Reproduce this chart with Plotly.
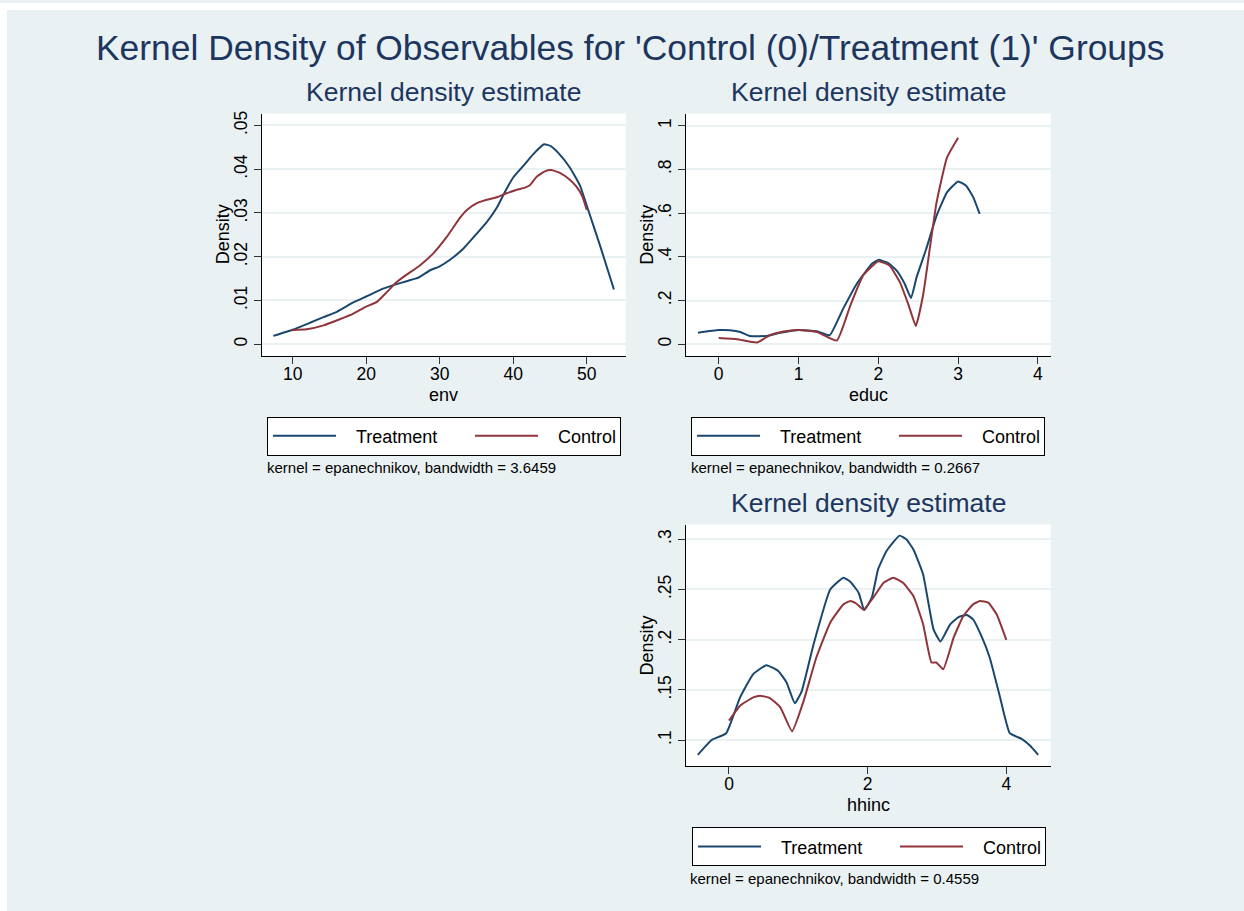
import plotly.graph_objects as go

W, H = 1244, 911

# ---------------- data ----------------
env_t_x = [7.37, 10, 12.36, 14.2, 16, 18.3, 20, 22.3, 23.7, 25.5, 27.1, 28.7, 30, 31.4, 33.2, 35, 36.4,
           37.8, 38.9, 40, 41.4, 42.7, 44.2, 45.1, 46.1, 47.7, 49.1, 50, 51.8, 53.7]
env_t_y = [0.0019, 0.0033, 0.0049, 0.0062, 0.0074, 0.0096, 0.0109, 0.0127, 0.0135, 0.0144, 0.0152, 0.0169,
           0.0178, 0.0193, 0.0218, 0.0252, 0.0279, 0.0313, 0.0349, 0.0381, 0.0408, 0.0434, 0.0457, 0.0453,
           0.0438, 0.0404, 0.0362, 0.0317, 0.0226, 0.0125]
env_c_x = [9.86, 11.9, 14.2, 16.4, 18.25, 20, 21.4, 22.8, 24.15, 25.5, 27.3, 29.1, 30.9, 32.8, 33.7, 35,
           36.4, 37.75, 39.1, 40.5, 41.6, 42.3, 43.2, 44.3, 45.2, 46.4, 47.7, 48.6, 49.4, 50]
env_c_y = [0.0032, 0.0034, 0.0043, 0.0057, 0.0070, 0.0086, 0.0096, 0.0119, 0.0142, 0.0159, 0.0180, 0.0207,
           0.0244, 0.0290, 0.0307, 0.0322, 0.0330, 0.0336, 0.0345, 0.0353, 0.0358, 0.0364, 0.0383, 0.0395,
           0.0398, 0.0391, 0.0376, 0.0360, 0.0338, 0.0307]

educ_t_x = [-0.26, 0, 0.14, 0.27, 0.39, 0.6, 0.77, 1, 1.23, 1.39, 1.56, 1.73, 1.92, 2, 2.12, 2.23, 2.33,
            2.41, 2.48, 2.6, 2.73, 2.86, 3, 3.1, 3.19, 3.27]
educ_t_y = [0.053, 0.065, 0.064, 0.056, 0.038, 0.038, 0.052, 0.065, 0.059, 0.041, 0.163, 0.277, 0.368,
            0.386, 0.372, 0.337, 0.277, 0.211, 0.307, 0.436, 0.588, 0.695, 0.745, 0.725, 0.672, 0.596]
educ_c_x = [0, 0.23, 0.48, 0.64, 0.81, 1, 1.23, 1.48, 1.65, 1.81, 2, 2.14, 2.27, 2.38, 2.47, 2.56, 2.65,
            2.73, 2.86, 3]
educ_c_y = [0.029, 0.023, 0.008, 0.041, 0.058, 0.065, 0.056, 0.017, 0.178, 0.315, 0.380, 0.360, 0.284,
            0.178, 0.084, 0.223, 0.451, 0.649, 0.854, 0.945]

hh_t_x = [-0.45, -0.25, -0.04, 0.16, 0.35, 0.54, 0.71, 0.83, 0.95, 1.05, 1.22, 1.46, 1.65, 1.75, 1.87,
          1.95, 2.06, 2.15, 2.27, 2.46, 2.56, 2.66, 2.8, 2.95, 3.05, 3.19, 3.31, 3.43, 3.52, 3.64, 3.76,
          3.91, 4.05, 4.22, 4.34, 4.46]
hh_t_y = [0.0855, 0.1003, 0.107, 0.1426, 0.1658, 0.1747, 0.169, 0.1575, 0.1367, 0.149, 0.1955, 0.250,
          0.2617, 0.2577, 0.2468, 0.2296, 0.2418, 0.270, 0.2881, 0.3036, 0.2997, 0.2898, 0.265, 0.2104,
          0.1982, 0.2154, 0.2226, 0.2246, 0.2203, 0.2038, 0.1823, 0.1426, 0.107, 0.1013, 0.0947, 0.0855]
hh_c_x = [0, 0.16, 0.35, 0.45, 0.59, 0.74, 0.91, 1.07, 1.26, 1.46, 1.65, 1.75, 1.84, 1.94, 2.08, 2.23,
          2.37, 2.51, 2.66, 2.8, 2.92, 2.99, 3.09, 3.24, 3.38, 3.52, 3.62, 3.74, 3.86, 4.0]
hh_c_y = [0.1195, 0.1344, 0.1426, 0.1443, 0.142, 0.1327, 0.1089, 0.1377, 0.1823, 0.217, 0.2352, 0.2385,
          0.2358, 0.2299, 0.2418, 0.2567, 0.2617, 0.2567, 0.2435, 0.2154, 0.1774, 0.1774, 0.1707, 0.2021,
          0.2236, 0.2352, 0.2385, 0.2369, 0.2253, 0.1998]

env_xticks = [10, 20, 30, 40, 50]
env_yticks = [0, 0.01, 0.02, 0.03, 0.04, 0.05]
env_ylabels = ["0", ".01", ".02", ".03", ".04", ".05"]
educ_xticks = [0, 1, 2, 3, 4]
educ_yticks = [0, 0.2, 0.4, 0.6, 0.8, 1]
educ_ylabels = ["0", ".2", ".4", ".6", ".8", "1"]
hh_xticks = [0, 2, 4]
hh_yticks = [0.1, 0.15, 0.2, 0.25, 0.3]
hh_ylabels = [".1", ".15", ".2", ".25", ".3"]

main_title = "Kernel Density of Observables for 'Control (0)/Treatment (1)' Groups"
sub_title = "Kernel density estimate"
notes = ["kernel = epanechnikov, bandwidth = 3.6459",
         "kernel = epanechnikov, bandwidth = 0.2667",
         "kernel = epanechnikov, bandwidth = 0.4559"]
series_names = ["Treatment", "Control"]

# ---------------- styling ----------------
FONT = "Liberation Sans, Arial, Helvetica, sans-serif"
BG = "#eaf1f3"
NAVY = "#1a476f"
MAROON = "#90353b"
TITLE_C = "#1c3660"
PAD = "\u00a0\u00a0\u00a0"  # gap between legend key line and label


def px(x):
    return x / W


def py(y):
    return 1 - y / H


fig = go.Figure()


def add_pair(tx, ty, cx, cy, xa, ya, leg):
    fig.add_trace(go.Scatter(x=tx, y=ty, mode="lines", name=PAD + series_names[0],
                             line=dict(color=NAVY, width=2, shape="spline", smoothing=0.4),
                             xaxis=xa, yaxis=ya, legend=leg, legendwidth=124, hoverinfo="skip"))
    fig.add_trace(go.Scatter(x=cx, y=cy, mode="lines", name=PAD + series_names[1],
                             line=dict(color=MAROON, width=2, shape="spline", smoothing=0.4),
                             xaxis=xa, yaxis=ya, legend=leg, legendwidth=72, hoverinfo="skip"))


add_pair(env_t_x, env_t_y, env_c_x, env_c_y, "x", "y", "legend")
add_pair(educ_t_x, educ_t_y, educ_c_x, educ_c_y, "x2", "y2", "legend2")
add_pair(hh_t_x, hh_t_y, hh_c_x, hh_c_y, "x3", "y3", "legend3")

# plot-area pixel boxes
P1 = dict(l=261.5, r=625.7, t=111, b=354)
P2 = dict(l=686, r=1050.7, t=111, b=354)
P3 = dict(l=686, r=1050.7, t=523.3, b=766)

tickfont = dict(family=FONT, size=17.5, color="black")


def xax(box, rng, ticks, anchor):
    return dict(domain=[px(box["l"]), px(box["r"])], range=rng, anchor=anchor,
                tickmode="array", tickvals=ticks, ticktext=[str(t) for t in ticks],
                showgrid=False, zeroline=False, showline=True, linecolor="black", linewidth=1,
                ticks="outside", ticklen=7, tickcolor="#333333", tickwidth=1, tickfont=tickfont,
                ticklabelstandoff=-5)


def yax(box, rng, ticks, labels, anchor):
    return dict(domain=[py(box["b"]), py(box["t"])], range=rng, anchor=anchor,
                tickmode="array", tickvals=ticks, ticktext=labels, tickangle=-90,
                showgrid=True, gridcolor=BG, gridwidth=1.5, zeroline=False,
                showline=True, linecolor="black", linewidth=1,
                ticks="outside", ticklen=7, tickcolor="#333333", tickwidth=1, tickfont=tickfont)


leg_common = dict(orientation="h", bgcolor="white", bordercolor="black", borderwidth=1,
                  font=dict(family=FONT, size=18, color="black"), itemwidth=63,
                  xanchor="left", yanchor="top", traceorder="normal", itemclick=False,
                  itemdoubleclick=False)

annotations = [
    dict(text=main_title, x=px(630), y=py(45), xref="paper", yref="paper", showarrow=False,
         xanchor="center", yanchor="middle", font=dict(family=FONT, size=35.4, color=TITLE_C)),
]
for box, xt in ((P1, "env"), (P2, "educ"), (P3, "hhinc")):
    cx = (box["l"] + box["r"]) / 2
    annotations.append(dict(text=sub_title, x=px(cx), y=py(box["t"] - 22), xref="paper", yref="paper",
                            showarrow=False, xanchor="center", yanchor="middle",
                            font=dict(family=FONT, size=26.5, color=TITLE_C)))
    annotations.append(dict(text=xt, x=px(cx), y=py(box["b"] + 39), xref="paper", yref="paper",
                            showarrow=False, xanchor="center", yanchor="middle",
                            font=dict(family=FONT, size=18, color="black")))
    annotations.append(dict(text="Density", x=px(box["l"] - 39), y=py((box["t"] + box["b"]) / 2),
                            xref="paper", yref="paper", showarrow=False, textangle=-90,
                            xanchor="center", yanchor="middle",
                            font=dict(family=FONT, size=18, color="black")))

for (xl, yc), txt in zip(((265, 466), (689, 466), (688, 878)), notes):
    annotations.append(dict(text=txt, x=px(xl), y=py(yc), xref="paper", yref="paper",
                            showarrow=False, xanchor="left", yanchor="middle",
                            font=dict(family=FONT, size=15, color="black")))

fig.update_layout(
    width=W, height=H, margin=dict(l=0, r=0, t=0, b=0),
    paper_bgcolor=BG, plot_bgcolor="white",
    font=dict(family=FONT),
    xaxis=xax(P1, [5.76, 55.3], env_xticks, "y"),
    yaxis=yax(P1, [-0.00266, 0.0527], env_yticks, env_ylabels, "x"),
    xaxis2=xax(P2, [-0.41, 4.16], educ_xticks, "y2"),
    yaxis2=yax(P2, [-0.053, 1.055], educ_yticks, educ_ylabels, "x2"),
    xaxis3=xax(P3, [-0.62, 4.64], hh_xticks, "y3"),
    yaxis3=yax(P3, [0.0739, 0.3146], hh_yticks, hh_ylabels, "x3"),
    legend=dict(x=px(267), y=py(415), **leg_common),
    legend2=dict(x=px(691), y=py(415), **leg_common),
    legend3=dict(x=px(692), y=py(827), **leg_common),
    annotations=annotations,
    shapes=[
        dict(type="rect", xref="paper", yref="paper", x0=0, x1=px(7), y0=0, y1=1,
             fillcolor="white", line=dict(width=0), layer="above"),
        dict(type="rect", xref="paper", yref="paper", x0=0, x1=1, y0=py(7), y1=1,
             fillcolor="white", line=dict(width=0), layer="above"),
    ],
)

fig.write_html("out.html", config={"displayModeBar": False},
               post_script="document.body.style.margin='0';document.body.style.overflow='hidden';")
